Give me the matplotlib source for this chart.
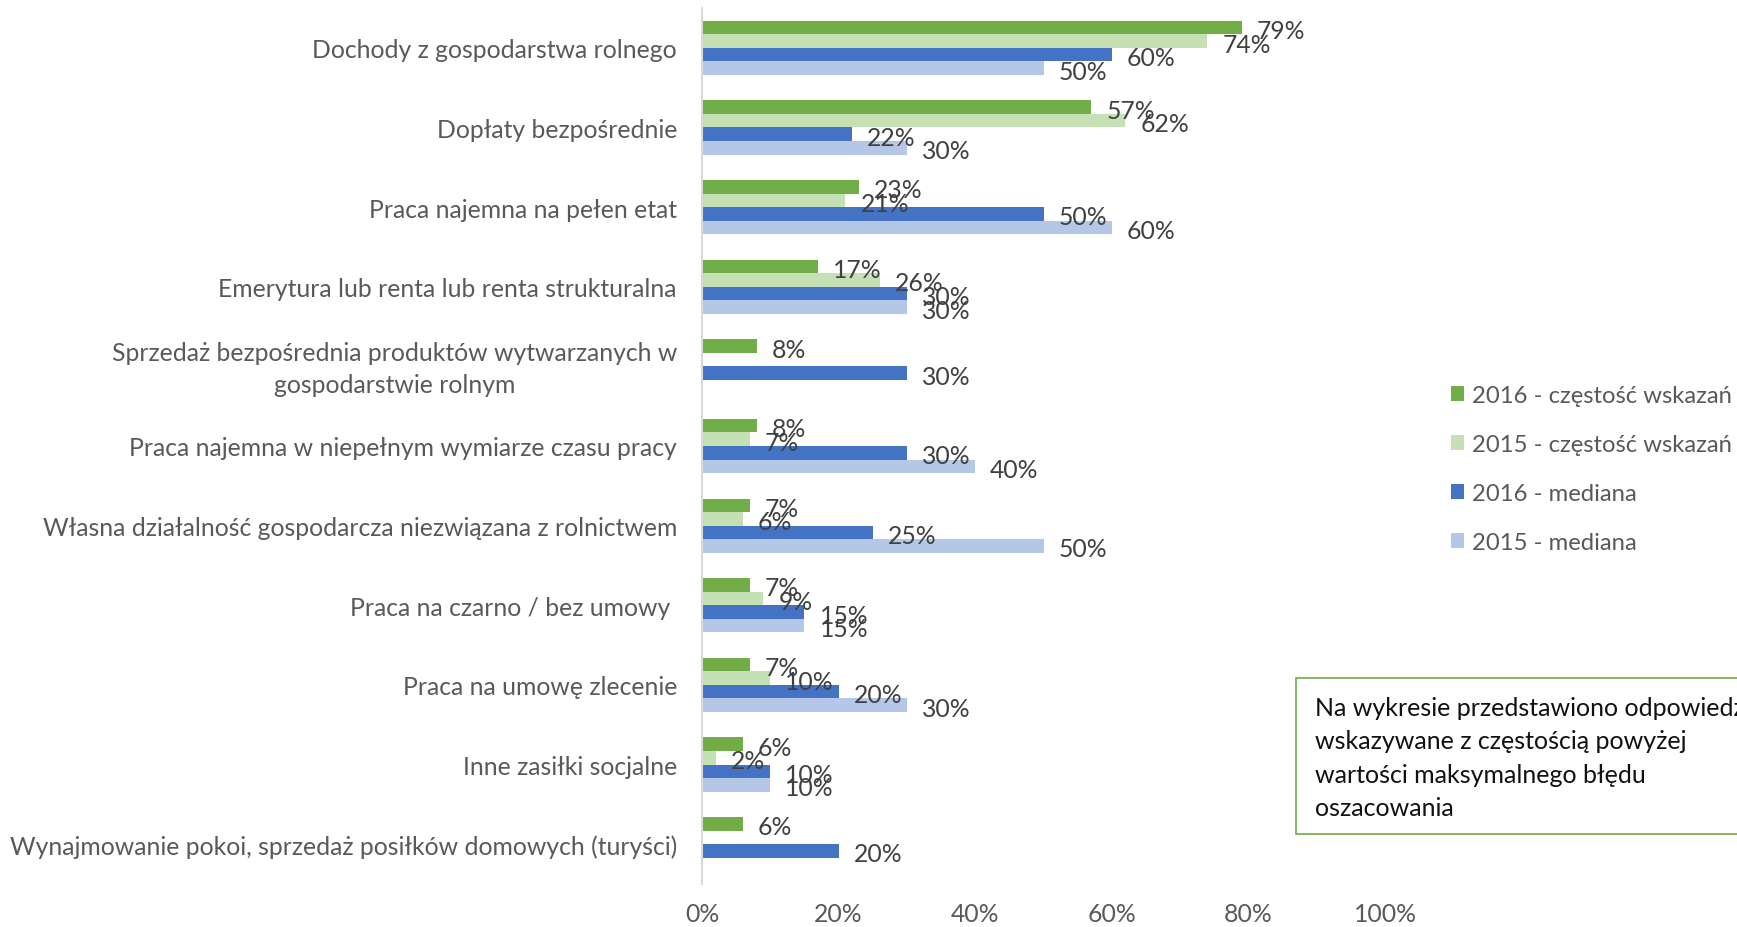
import matplotlib
matplotlib.use("Agg")
import matplotlib.pyplot as plt
from matplotlib.patches import Patch, Rectangle
from matplotlib.transforms import ScaledTranslation
import numpy as np

categories = [
    "Dochody z gospodarstwa rolnego",
    "Dopłaty bezpośrednie",
    "Praca najemna na pełen etat",
    "Emerytura lub renta lub renta strukturalna",
    "Sprzedaż bezpośrednia produktów wytwarzanych w\ngospodarstwie rolnym",
    "Praca najemna w niepełnym wymiarze czasu pracy",
    "Własna działalność gospodarcza niezwiązana z rolnictwem",
    "Praca na czarno / bez umowy ",
    "Praca na umowę zlecenie",
    "Inne zasiłki socjalne",
    "Wynajmowanie pokoi, sprzedaż posiłków domowych (turyści)",
]

series_names = [
    "2016 - częstość wskazań",
    "2015 - częstość wskazań",
    "2016 - mediana",
    "2015 - mediana",
]
freq_2016 = [79, 57, 23, 17, 8, 8, 7, 7, 7, 6, 6]
freq_2015 = [74, 62, 21, 26, None, 7, 6, 9, 10, 2, None]
median_2016 = [60, 22, 50, 30, 30, 30, 25, 15, 20, 10, 20]
median_2015 = [50, 30, 60, 30, None, 40, 50, 15, 30, 10, None]

x_ticks = [0, 20, 40, 60, 80, 100]
x_tick_labels = ["0%", "20%", "40%", "60%", "80%", "100%"]

note_text = ("Na wykresie przedstawiono odpowiedzi\n"
             "wskazywane z częstością powyżej\n"
             "wartości maksymalnego błędu\n"
             "oszacowania")

colors = ["#70AD47", "#C5E0B4", "#4472C4", "#B4C7E7"]

FONT = "Lato"
FS = 17.8
plt.rcParams['font.family'] = [FONT, 'DejaVu Sans']

W, H = 1737, 928
fig = plt.figure(figsize=(W / 100, H / 100), dpi=100)
ax = fig.add_axes([702 / W, 1 - 885 / H, 683 / W, (885 - 9) / H])

n = len(categories)
y = np.arange(n)
h = 0.17
series = [freq_2016, freq_2015, median_2016, median_2015]
for k, (vals, col, name) in enumerate(zip(series, colors, series_names)):
    pos = y + (k - 1.5) * h
    for yi, v in zip(pos, vals):
        if v is None:
            continue
        ax.barh(yi, v, height=h, color=col, linewidth=0)
        ax.annotate(f"{v}%", xy=(v, yi), xytext=(15, -3), textcoords="offset pixels",
                    ha="left", va="center", fontsize=FS, color="#404040")

ax.set_xlim(0, 100)
ax.set_ylim(n - 0.5, -0.5)
ax.set_yticks(y)
ax.set_yticklabels(categories, fontsize=FS, color="#595959", multialignment="center",
                   linespacing=1.45)
ax.set_xticks(x_ticks)
ax.set_xticklabels(x_tick_labels, fontsize=FS, color="#595959")
ax.tick_params(axis="y", length=0, pad=18)
ax.tick_params(axis="x", length=0, pad=13)
for s in ["top", "right", "bottom"]:
    ax.spines[s].set_visible(False)
ax.spines["left"].set_color("#D9D9D9")
ax.spines["left"].set_linewidth(1.5)

# nudge the two-line category label slightly upward
lbl = ax.get_yticklabels()[4]
lbl.set_transform(lbl.get_transform() + ScaledTranslation(0, 0.04, fig.dpi_scale_trans))

handles = [Patch(facecolor=c, edgecolor="none") for c in colors]
leg = fig.legend(handles, series_names, loc="center left",
                 bbox_to_anchor=(1451 / W, 1 - 470 / H), frameon=False,
                 fontsize=17.2, handlelength=0.55, handleheight=0.55,
                 handletextpad=0.35, labelspacing=1.17, borderpad=0, borderaxespad=0)
for t in leg.get_texts():
    t.set_color("#595959")

rect = Rectangle((1296 / W, 1 - 835 / H), 0.4, (835 - 679) / H, transform=fig.transFigure,
                 facecolor="white", edgecolor="#70AD47", linewidth=1.2)
fig.patches.append(rect)
fig.text(1315 / W, 1 - 697 / H, note_text, fontsize=18, color="#111111",
         ha="left", va="top", linespacing=1.55)

fig.savefig("out.png", dpi=100)
